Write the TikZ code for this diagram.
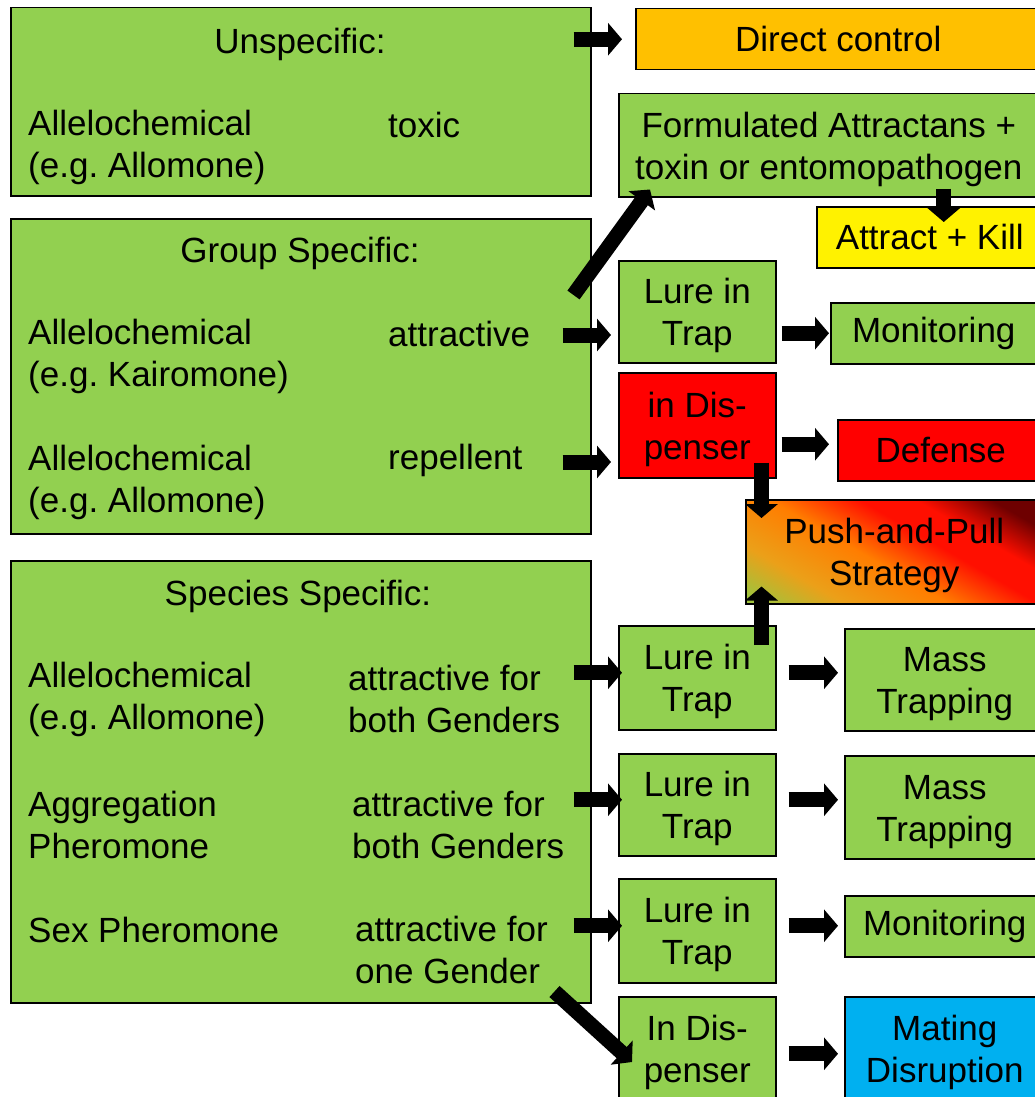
\documentclass[tikz,border=0pt]{standalone}
\usepackage{fontspec}
\setmainfont{Liberation Sans}
\usetikzlibrary{arrows.meta,calc,positioning}
\definecolor{leafgreen}{RGB}{146,208,80}
\definecolor{amber}{RGB}{255,192,0}
\definecolor{skyblue}{RGB}{0,176,240}
\definecolor{ppolive}{RGB}{160,195,60}
\definecolor{ppyellow}{RGB}{235,160,25}
\definecolor{pporange}{RGB}{255,125,0}
\definecolor{ppred}{RGB}{255,15,0}
\definecolor{ppdark}{RGB}{110,0,0}
\pgfdeclarehorizontalshading{pushpull}{100bp}{color(0bp)=(ppolive); color(18bp)=(ppolive); color(30bp)=(ppyellow); color(45bp)=(pporange); color(58bp)=(ppred); color(66bp)=(ppred); color(77bp)=(ppdark); color(100bp)=(ppdark)}
\newcommand{\lift}{\rule{0pt}{33pt}}
\tikzstyle{classbox} = [rectangle, draw, fill=leafgreen, line width=1.5pt,
    anchor=north west, minimum width=580pt]
\tikzstyle{block} = [rectangle, draw, fill=leafgreen, line width=1.5pt,
    anchor=north west, align=center, inner sep=0pt]
\tikzstyle{entry} = [anchor=west, align=left, inner sep=0pt]
\tikzstyle{line} = [draw, line width=15pt, -{Triangle[length=14pt,width=32pt]}]

\begin{document}
\frenchspacing
\begin{tikzpicture}[x=1pt, y=-1pt, font=\fontsize{35}{42}\selectfont]
    \useasboundingbox (0,0) rectangle (1035,1097);
    \clip (0,0) rectangle (1035,1097);
    % Place the three classes
    \node [classbox, minimum height=188pt] (unsp) at (10,7) {};
    \node [classbox, minimum height=315pt] (grp) at (10,218) {};
    \node [classbox, minimum height=442pt] (spec) at (10,560) {};
    \node at (300,44) (unsptitle) {Unspecific:};
    \node [entry] at (28,147) (unspchem) {Allelochemical\\(e.g. Allomone)};
    \node [entry] at (388,125) (toxic) {toxic};
    \node at (300,253) (grptitle) {Group Specific:};
    \node [entry] at (28,356) (kairo) {Allelochemical\\(e.g. Kairomone)};
    \node [entry] at (388,334) (attr) {attractive};
    \node [entry] at (28,482) (allo) {Allelochemical\\(e.g. Allomone)};
    \node [entry] at (388,460) (repel) {repellent};
    \node at (298,596) (spectitle) {Species Specific:};
    \node [entry] at (28,699) (specchem) {Allelochemical\\(e.g. Allomone)};
    \node [entry] at (348,699) (both) {attractive for\\both Genders};
    \node [entry] at (28,825) (aggr) {Aggregation\\Pheromone};
    \node [entry] at (352,825) (aggrboth) {attractive for\\both Genders};
    \node [entry] at (28,930) (sex) {Sex Pheromone};
    \node [entry] at (355,950) (one) {attractive for\\one Gender};
    % Place the uses
    \node [block, fill=amber, minimum width=405pt, minimum height=61pt] (direct) at (635,8) {Direct control};
    \node [block, minimum width=420pt, minimum height=103pt] (formul) at (618,93) {\lift Formulated Attractans +\\toxin or entomopathogen};
    \node [block, fill=yellow, minimum width=226pt, minimum height=61pt] (kill) at (816,206) {Attract + Kill};
    \node [block, minimum width=157pt, minimum height=102pt] (lure1) at (618,260) {\lift Lure in\\Trap};
    \node [block, minimum width=206pt, minimum height=61pt] (moni1) at (830,302) {Monitoring};
    \node [block, fill=red, minimum width=157pt, minimum height=105pt] (disp1) at (618,372) {\lift in Dis-\\penser};
    \node [block, fill=red, minimum width=206pt, minimum height=61pt] (defense) at (837,419) {Defense};
    \node [block, shade, shading=pushpull, shading angle=60, minimum width=297pt, minimum height=104pt] (pushpull) at (745,499) {\lift Push-and-Pull\\Strategy};
    \node [block, minimum width=157pt, minimum height=104pt] (lure2) at (618,625) {\lift Lure in\\Trap};
    \node [block, minimum width=200pt, minimum height=102pt] (mass1) at (844,628) {\lift Mass\\Trapping};
    \node [block, minimum width=157pt, minimum height=102pt] (lure3) at (618,753) {\lift Lure in\\Trap};
    \node [block, minimum width=200pt, minimum height=103pt] (mass2) at (844,755) {\lift Mass\\Trapping};
    \node [block, minimum width=157pt, minimum height=104pt] (lure4) at (618,878) {\lift Lure in\\Trap};
    \node [block, minimum width=200pt, minimum height=61pt] (moni2) at (844,895) {Monitoring};
    \node [block, minimum width=157pt, minimum height=104pt] (disp2) at (618,996) {\lift In Dis-\\penser};
    \node [block, fill=skyblue, minimum width=200pt, minimum height=104pt] (mating) at (844,996) {\lift Mating\\Disruption};
    % Arrows
    \path [line] ($(unsp.east |- direct)+(-18,0)$) -- ($(direct.west)+(-13,0)$);
    \path [line] ($(grp.north east)+(-18,77)$) -- ($(formul.south west)+(32,-8)$);
    \path [line] ($(formul.south -| kill.north)+(14,-9)$) -- ($(kill.north)+(14,16)$);
    \path [line] ($(grp.east |- attr)+(-29,1)$) -- ($(lure1.west |- attr)+(-7,1)$);
    \path [line] ($(lure1.east |- moni1)+(5,0)$) -- ($(moni1.west)+(-1,0)$);
    \path [line] ($(grp.east |- repel)+(-29,2)$) -- ($(disp1.west |- repel)+(-7,2)$);
    \path [line] ($(disp1.east |- defense)+(5,-6)$) -- ($(defense.west)+(-8,-6)$);
    \path [line] ($(disp1.south east)+(-15,-16)$) -- ($(disp1.south east |- pushpull.north)+(-15,19)$);
    \path [line] ($(lure2.north east)+(-15,20)$) -- ($(pushpull.south west -| lure2.north east)+(-15,-18)$);
    \path [line] ($(spec.east |- lure2)+(-18,-5)$) -- ($(lure2.west)+(4,-5)$);
    \path [line] ($(spec.east |- lure3)+(-18,-5)$) -- ($(lure3.west)+(4,-5)$);
    \path [line] ($(spec.east |- lure4)+(-18,-5)$) -- ($(lure4.west)+(4,-5)$);
    \path [line] ($(lure2.east)+(12,-5)$) -- ($(mass1.west |- lure2)+(-6,-5)$);
    \path [line] ($(lure3.east)+(12,-5)$) -- ($(mass2.west |- lure3)+(-6,-5)$);
    \path [line] ($(lure4.east)+(12,-5)$) -- ($(moni2.west |- lure4)+(-6,-5)$);
    \path [line] ($(spec.south east)+(-37,-12)$) -- ($(disp2.north west)+(14,66)$);
    \path [line] ($(disp2.east)+(12,5)$) -- ($(mating.west)+(-6,5)$);
\end{tikzpicture}
\end{document}
